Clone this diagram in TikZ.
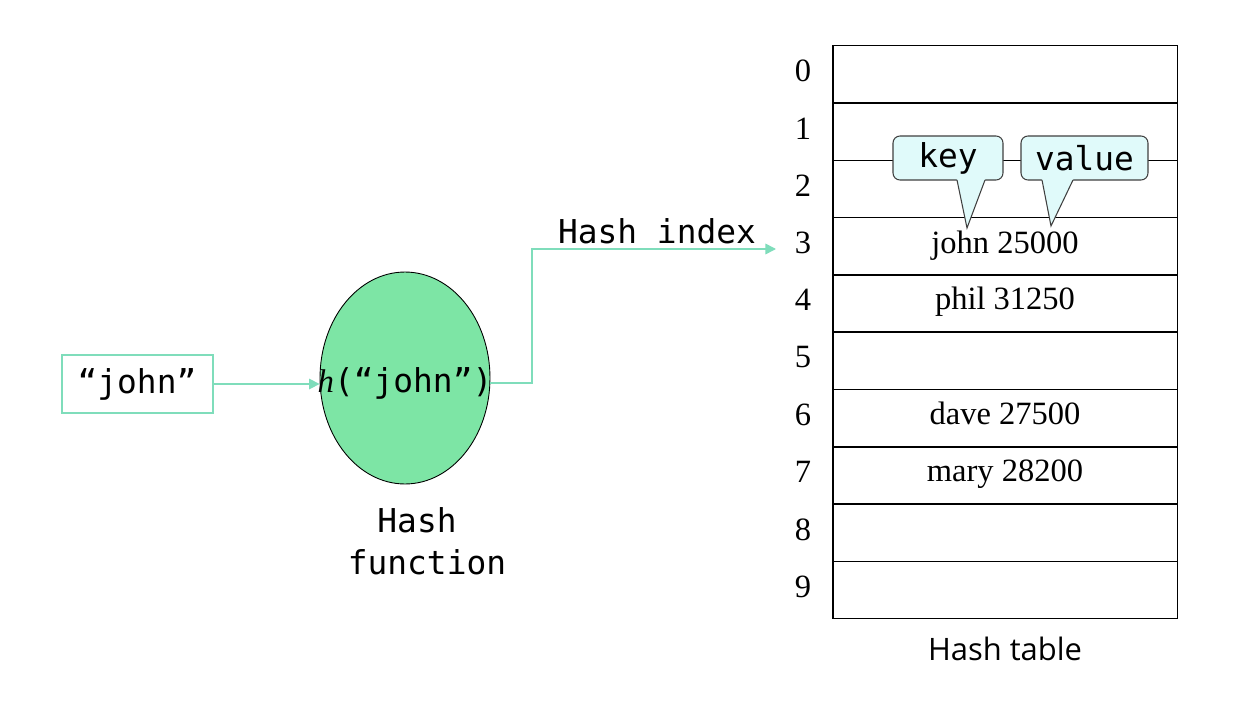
\documentclass[tikz,border=0pt]{standalone}
\usepackage{fontspec}
\setmainfont{Liberation Serif}
\setmonofont{DejaVu Sans Mono}
\newfontfamily\labelsans{Open Sans}
\usetikzlibrary{shapes.geometric,arrows.meta}
\definecolor{flow}{HTML}{7FDDBB}
\definecolor{hashgreen}{HTML}{7DE5A5}
\definecolor{calfill}{HTML}{E0FAFA}
\begin{document}
\begin{tikzpicture}[x=0.02cm,y=-0.02cm,
  mono/.style={font=\fontsize{18.7}{22}\selectfont\ttfamily, inner sep=0pt},
  serifl/.style={font=\fontsize{18.5}{22}\selectfont\rmfamily, inner sep=0pt},
  rowbox/.style={draw=black, line width=0.85pt, minimum width=6.9cm, minimum height=1.146cm, inner sep=0pt, anchor=north west},
  flowline/.style={draw=flow, line width=0.9pt},
  tip/.style={-{Triangle[length=6pt,width=6pt]}},
  callshape/.style={draw=black!75, fill=calfill, line width=0.6pt, rounded corners=4pt},
  calltail/.style={draw=black!75, line width=0.6pt, line join=miter}
]
\useasboundingbox (0,0) rectangle (1254,720);
\fill[white] (0,0) rectangle (1254,720);
% table rows
\foreach \i in {0,...,9} {
  \node[rowbox] (row\i) at (832,{45+57.3*\i}) {};
  \node[serifl] (num\i) at (803,{71+57.3*\i}) {\i};
}
% entries
\node[serifl, anchor=base] (e3) at (1005,253) {john 25000};
\node[serifl, anchor=base] (e4) at (1005,309) {phil 31250};
\node[serifl, anchor=base] (e6) at (1005,424) {dave 27500};
\node[serifl, anchor=base] (e7) at (1005,481) {mary 28200};
% callouts
\coordinate (keytip) at (967,228);
\coordinate (valtip) at (1051,226);
\draw[callshape] (893,136) rectangle (1003,180);
\fill[calfill] (956,176) -- (957,180) -- (keytip) -- (985,180) -- (986,176) -- cycle;
\draw[calltail] (957,180) -- (keytip) -- (985,180);
\draw[callshape] (1021,136) rectangle (1148,180);
\fill[calfill] (1041,176) -- (1042,180) -- (valtip) -- (1073,180) -- (1074,176) -- cycle;
\draw[calltail] (1042,180) -- (valtip) -- (1073,180);
\node[mono] (key) at (948,158) {key};
\node[mono] (val) at (1084.5,158) {value};
% table label
\node[font=\fontsize{17.6}{21}\selectfont\labelsans, inner sep=0pt] (tlabel) at (1005,649) {Hash table};
% input box
\node[draw=flow, line width=0.9pt, minimum width=3.02cm, minimum height=1.16cm, inner sep=0pt] (in) at (137.5,384) {};
\node[mono] (intext) at (137,384) {“john”};
% hash function ellipse
\node[ellipse, draw=black, line width=0.5pt, fill=hashgreen, minimum width=3.4cm, minimum height=4.24cm, inner sep=0pt] (ell) at (405,378) {};
\node[mono] (hlabel) at (405,383) {\textit{\rmfamily h}(“john”)};
\node[mono, align=center] (flabel) at (427,541) {Hash\hspace*{0.4cm}\\[2pt]function};
% index label
\node[mono] (ilabel) at (657,231) {Hash index};
\coordinate (bend) at (532,383);
\coordinate (hashend) at (776,249);
% arrows
\draw[flowline, tip] (in.east |- intext) -- (ell.west |- intext);
\draw[flowline, tip] (ell.east |- bend) -- (bend) |- (hashend);
\end{tikzpicture}
\end{document}
